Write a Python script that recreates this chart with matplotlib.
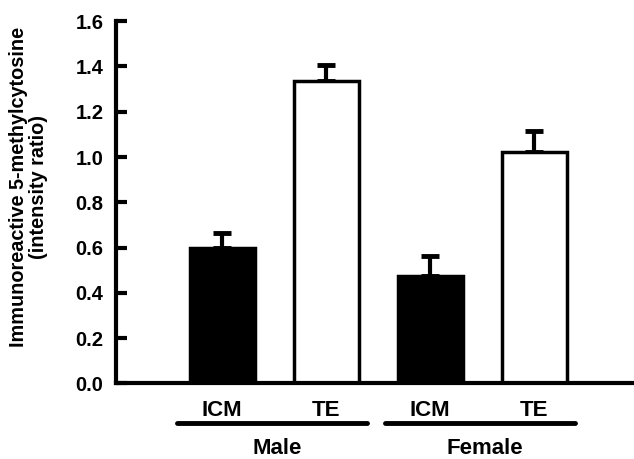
import matplotlib.pyplot as plt
import matplotlib.transforms as mtransforms

plt.rcParams['font.family'] = ['Liberation Sans', 'DejaVu Sans']
plt.rcParams['font.weight'] = 'bold'

cells = ['ICM', 'TE', 'ICM', 'TE']
groups = ['Male', 'Female']
values = [0.598, 1.335, 0.474, 1.021]
errors = [0.066, 0.071, 0.089, 0.093]
fills = ['black', 'white', 'black', 'white']
yticks = [0.0, 0.2, 0.4, 0.6, 0.8, 1.0, 1.2, 1.4, 1.6]

fig = plt.figure(figsize=(6.34, 4.59), dpi=100)
ax = fig.add_axes([0.183, 0.1645, 0.817, 0.7895])

x = list(range(len(values)))
ax.bar(x, values, width=0.625, color=fills, edgecolor='black', linewidth=2.5, zorder=2)
ax.errorbar(x, values, yerr=[[0] * len(errors), errors], fmt='none', ecolor='black',
            elinewidth=3, capsize=6.5, capthick=3.5, zorder=1)

ax.set_xlim(-1.02, 3.96)
ax.set_ylim(0, 1.6)
ax.set_yticks(yticks)
ax.set_yticklabels(['%.1f' % t for t in yticks], fontsize=14.5, fontweight='bold')
ax.tick_params(axis='y', direction='in', length=8, width=3, pad=9)
ax.set_xticks([])
for s in ['top', 'right']:
    ax.spines[s].set_visible(False)
ax.spines['left'].set_linewidth(3)
ax.spines['bottom'].set_linewidth(3)

fig.text(0.045, 0.592, 'Immunoreactive 5-methylcytosine\n(intensity ratio)', rotation=90,
         ha='center', va='center', multialignment='center', fontsize=14.3,
         fontweight='bold', linespacing=1.1)

trans = mtransforms.blended_transform_factory(ax.transData, ax.transAxes)
for xi, c in zip(x, cells):
    ax.text(xi, -0.075, c, transform=trans, ha='center', va='center',
            fontsize=16, fontweight='bold')
for gi, g in enumerate(groups):
    x0 = 2 * gi - 0.43
    x1 = 2 * gi + 1.39
    ax.plot([x0, x1], [-0.11, -0.11], transform=trans, color='black', lw=3.5,
            solid_capstyle='round', clip_on=False)
    ax.text((x0 + x1) / 2 + 0.05, -0.18, g, transform=trans, ha='center', va='center',
            fontsize=16, fontweight='bold')

fig.savefig('out.png', dpi=100)
